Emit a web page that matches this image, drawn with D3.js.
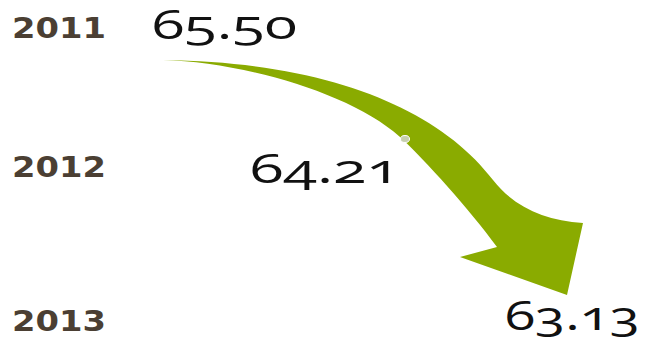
<!DOCTYPE html>
<html><head><meta charset="utf-8">
<script src="https://cdn.jsdelivr.net/npm/d3@7"></script>
<style>
html,body{margin:0;padding:0;background:#fff;}
svg{display:block;}
.yr{font-family:"DejaVu Sans",sans-serif;font-weight:bold;font-size:29px;fill:#4b3f33;}
.val{font-family:"Open Sans","Noto Sans",sans-serif;font-size:40px;fill:#111;font-variant-numeric:oldstyle-nums;font-feature-settings:"onum" 1;}
</style></head>
<body>
<script>
const years = ["2011", "2012", "2013"];
const values = [65.50, 64.21, 63.13];
const valueLabels = ["65.50", "64.21", "63.13"];

const W = 645, H = 338;
const svg = d3.select("body").append("svg").attr("width", W).attr("height", H);

// layout scales
const yBase = d3.scaleOrdinal().domain(years).range([38, 177, 331]);
const yVal = d3.scaleOrdinal().domain(years).range([39, 183, 330]);
const xVal = d3.scaleOrdinal().domain(years).range([152, 250, 505]);
const wVal = d3.scaleOrdinal().domain(years).range([145, 150, 135]);

// arrow frame: from the first value (start) to the last value (tip)
const ax = d3.scaleLinear().domain([0, 1]).range([163, 567]);
const ay = d3.scaleLinear().domain([0, 1]).range([60, 295]);
const P = (u, v) => [ax(u), ay(v)];
const U = (px, py) => [ax.invert(px), ay.invert(py)];

function arrowPath() {
  const p = d3.path();
  const m = (q) => q;
  const S = P(0, 0);
  p.moveTo(...S);
  // outer edge
  const o1 = [U(330, 62), U(440, 110), U(493, 180)].map(q => P(...q));
  p.bezierCurveTo(...o1[0], ...o1[1], ...o1[2]);
  const o2 = [U(515, 208), U(545, 220), U(583, 223)].map(q => P(...q));
  p.bezierCurveTo(...o2[0], ...o2[1], ...o2[2]);
  // head
  p.lineTo(...P(1, 1));
  p.lineTo(...P(...U(460, 257)));
  p.lineTo(...P(...U(497, 247)));
  // inner edge back to start
  const i1 = [U(470, 210), U(425, 160), U(400, 137)].map(q => P(...q));
  p.bezierCurveTo(...i1[0], ...i1[1], ...i1[2]);
  const i2 = [U(350, 92), U(240, 62), U(163, 60)].map(q => P(...q));
  p.bezierCurveTo(...i2[0], ...i2[1], ...i2[2]);
  p.closePath();
  return p.toString();
}
svg.append("path").attr("d", arrowPath()).attr("fill", "#8aab00");

// point for the middle year on the arrow
const dot = P(...U(405, 139));
svg.append("ellipse").attr("cx", dot[0]).attr("cy", dot[1]).attr("rx", 4.5).attr("ry", 3.5)
  .attr("fill", "#c6cfae").attr("stroke", "#fff").attr("stroke-width", 1);

// year labels
svg.selectAll("text.yr").data(years).join("text").attr("class", "yr")
  .attr("x", 12).attr("y", d => yBase(d))
  .attr("textLength", 94).attr("lengthAdjust", "spacingAndGlyphs")
  .text(d => d);

// value labels
svg.selectAll("text.val").data(years).join("text").attr("class", "val")
  .attr("x", d => xVal(d)).attr("y", d => yVal(d))
  .attr("textLength", d => wVal(d)).attr("lengthAdjust", "spacingAndGlyphs")
  .text((d, i) => valueLabels[i]);
</script>
</body></html>
